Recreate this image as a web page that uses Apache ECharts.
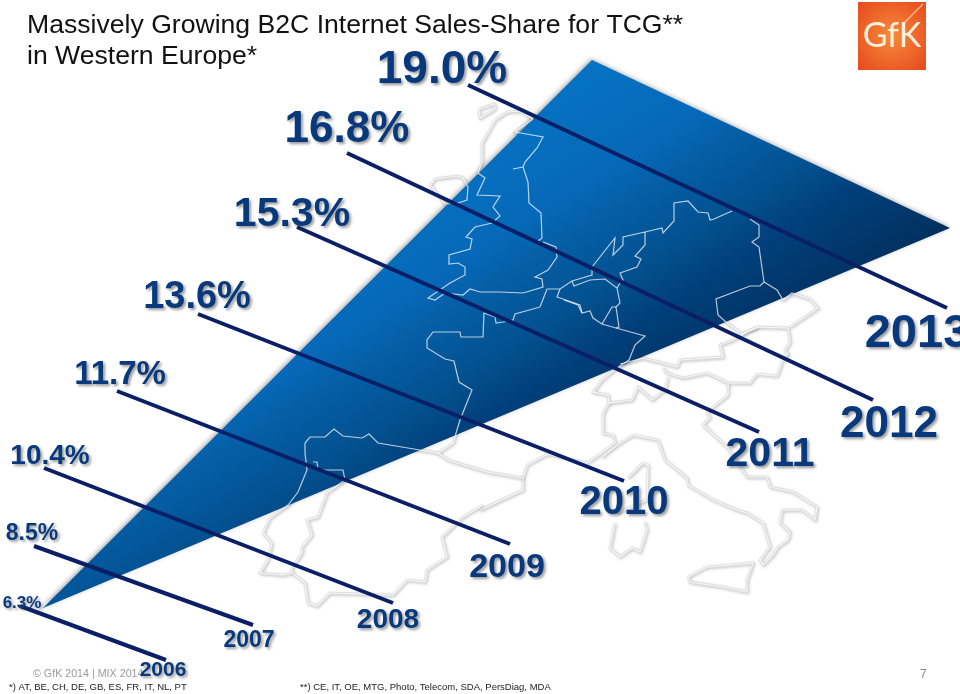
<!DOCTYPE html>
<html>
<head>
<meta charset="utf-8">
<style>html,body{margin:0;padding:0;background:#fff}#c{width:960px;height:694px}</style>
<script src="https://cdn.jsdelivr.net/npm/echarts@6/dist/echarts.min.js"></script>
</head>
<body>
<div id="c"></div>
<script>
// ---- chart values ----
const years = ['2006','2007','2008','2009','2010','2011','2012','2013'];
const shares = [6.3, 8.5, 10.4, 11.7, 13.6, 15.3, 16.8, 19.0];

// ---- placement (slide units on the hidden axes) ----
const shareAnchors = [[22,602],[32,532],[50,454],[120,373],[197,295],[292,212],[347,127],[442,67]];
const yearAnchors  = [[163,669],[249,639],[388,618],[507,565],[624,500],[770,452],[889,422],[917,331]];
const leaderStarts = [[20,606],[34,546],[44,468],[117,391],[198,314],[297,227],[347,153],[468,85]];
const leaderEnds   = [[166,660],[253,625],[393,603],[510,544],[624,481],[759,432],[873,400],[947,308]];
const shareFontSizes = [17,23,28,33,38,41,44,46];
const yearFontSizes  = [21,23,28,34,40,41,44,47];
const wedge = [[43,608],[592,60],[950,228]];

// ---- background map outlines ----
const mapOutlines = [
  [[479,109],[494,104],[495,109],[480,118],[479,109]],
  [[533,119],[515,132],[543,137],[537,148],[525,162],[523,167],[513,169]],
  [[523,167],[528,182],[529,203],[541,213],[542,238],[538,241]],
  [[543,242],[556,247],[557,257],[548,270],[535,277],[542,279],[543,287],[523,293],[500,292],[480,292],[470,289],[463,295],[445,293],[435,300],[428,298],[450,283],[465,275],[465,267],[458,263],[449,264],[449,255],[470,249],[472,239],[466,237],[475,227],[492,223],[500,216],[493,207],[500,196],[477,195],[485,178],[478,173],[482,162],[482,143],[488,133],[495,120],[507,112],[520,111],[533,119]],
  [[430,185],[435,179],[457,176],[463,178],[468,187],[467,200],[458,203],[445,204],[432,187],[430,185]],
  [[592,267],[615,238],[613,255],[623,245],[623,237],[645,232],[662,228],[663,233],[674,221],[674,203],[688,201],[698,212],[708,213],[710,220],[714,219],[732,211]],
  [[645,232],[645,245],[635,256],[641,259],[637,267],[620,273],[623,280],[620,283],[617,288]],
  [[592,267],[592,275],[572,281],[560,289],[547,289],[540,307]],
  [[572,281],[574,286],[590,280],[605,279],[617,288],[620,303],[616,307],[619,327],[616,328]],
  [[602,324],[612,307],[616,307]],
  [[560,289],[557,297],[580,305],[582,313],[590,311],[593,318],[602,324],[616,328],[645,336],[635,345],[629,360],[617,368],[602,380],[593,392],[608,395],[609,403],[603,413],[603,433],[613,435],[615,443],[603,452],[587,463],[548,454],[527,465],[523,478],[523,490],[480,510]],
  [[750,219],[759,225],[759,237],[752,242],[759,247],[764,282],[760,286],[750,286],[716,299],[718,315],[727,323],[742,334],[758,327],[788,328],[790,343],[785,350],[788,355]],
  [[764,282],[777,290],[783,300],[792,293],[810,299],[818,308],[790,327]],
  [[758,327],[750,330],[733,340],[720,345],[723,357],[680,360],[677,367],[663,363],[643,358],[620,364]],
  [[663,368],[667,373],[683,378],[707,373],[728,383],[750,383],[757,374],[777,376],[782,362],[788,353]],
  [[668,377],[665,390],[652,400],[638,387],[632,400],[609,403]],
  [[602,457],[617,445],[633,435],[658,440],[665,460],[687,478],[688,485],[713,500],[737,510],[747,513],[763,523],[770,547],[760,560],[763,565],[773,555],[778,547],[788,540],[790,532],[780,523],[782,510],[802,510],[815,520],[817,507],[793,492],[770,487],[767,477],[747,477],[727,447],[703,425],[710,417],[707,412],[728,395],[728,383]],
  [[688,577],[707,567],[753,563],[747,580],[747,592],[723,587],[690,582],[688,577]],
  [[628,478],[643,463],[648,465],[647,500],[617,513]],
  [[615,523],[610,548],[620,557],[632,548],[640,552],[647,530],[645,522]],
  [[305,453],[305,443],[310,437],[325,437],[334,429],[343,436],[362,438],[369,434],[378,443],[420,450],[438,453],[453,443],[460,420],[472,390],[459,382],[454,361],[445,359],[427,348],[427,340],[433,332],[460,332],[461,337],[483,337],[484,313],[495,317],[496,323],[503,322],[513,320],[515,314],[540,307]],
  [[305,453],[307,470],[298,492],[288,505],[270,518],[263,533],[272,543],[268,560],[260,573],[283,575],[292,573],[305,583],[308,603],[317,606],[330,593],[393,595],[407,580],[425,582],[427,570],[447,557],[442,537],[463,517],[483,505]],
  [[313,462],[317,462],[318,470],[343,470],[345,480],[327,493],[318,517],[307,520],[312,535],[302,547],[302,553],[292,568],[292,573]],
  [[438,453],[448,460],[487,472],[523,478]],
  [[564,300],[578,305],[582,313]]
];

const NAVY = '#08397c', LINE = '#0a1f66';
const FONT = '"Liberation Sans", Arial, sans-serif';

const leaderData = years.map((y,i)=>[leaderStarts[i],leaderEnds[i]]);

function polyItem(points, style){
  return (params, api) => ({
    type:'polyline',
    shape:{points:points(params).map(p=>api.coord(p))},
    style
  });
}

const labelBase = {
  show:true, position:'inside', color:NAVY, fontWeight:'bold', fontFamily:FONT, opacity:1,
  textShadowColor:'rgba(50,50,50,.5)', textShadowBlur:3, textShadowOffsetX:2, textShadowOffsetY:2
};

const option = {
  animation:false,
  backgroundColor:'#fff',
  grid:{left:0,right:0,top:0,bottom:0},
  xAxis:{type:'value',min:0,max:960,show:false},
  yAxis:{type:'value',min:0,max:694,inverse:true,show:false},
  title:[
    {text:'Massively Growing B2C Internet Sales-Share for TCG**\nin Western Europe*',left:27,top:10,padding:0,
      textStyle:{fontFamily:FONT,fontSize:26.6,fontWeight:'normal',color:'#111',lineHeight:31}},
    {text:'© GfK 2014 | MIX 2014',left:33,top:669,padding:0,textStyle:{fontFamily:FONT,fontSize:10.7,fontWeight:'normal',color:'#9a9a9a'}},
    {text:'*) AT, BE, CH, DE, GB, ES, FR, IT, NL, PT',left:9,top:682,padding:0,textStyle:{fontFamily:FONT,fontSize:9.5,fontWeight:'normal',color:'#222'}},
    {text:'**) CE, IT, OE, MTG, Photo, Telecom, SDA, PersDiag, MDA',left:300,top:682,padding:0,textStyle:{fontFamily:FONT,fontSize:9.5,fontWeight:'normal',color:'#222'}},
    {text:'7',left:920,top:669,padding:0,textStyle:{fontFamily:FONT,fontSize:12,fontWeight:'normal',color:'#8a8a8a'}}
  ],
  graphic:[
    {type:'rect',z:5,shape:{x:858,y:2,width:68,height:68},
      style:{fill:new echarts.graphic.RadialGradient(0.5,0.5,0.65,[{offset:0,color:'#f68a3c'},{offset:1,color:'#e84e1e'}])}},
    {type:'line',z:6,shape:{x1:923,y1:4,x2:903,y2:24},style:{stroke:'rgba(255,225,180,.7)',lineWidth:1.5}},
    {type:'text',z:6,x:892,y:36,style:{text:'GfK',align:'center',verticalAlign:'middle',fill:'#fdf1dc',
      font:'400 34px Lato, "Open Sans", sans-serif'}}
  ],
  series:[
    { // shadowed map outlines, under the wedge
      type:'custom',coordinateSystem:'cartesian2d',silent:true,z:1,clip:false,
      data:mapOutlines.map((o,i)=>[i]),
      encode:{x:[],y:[]},
      renderItem:polyItem(p=>mapOutlines[p.dataIndex],{fill:null,stroke:'#dcdcdc',lineWidth:2.5,shadowBlur:3,shadowColor:'rgba(0,0,0,.25)',shadowOffsetX:1,shadowOffsetY:1})
    },
    { // sales-share wedge
      type:'custom',coordinateSystem:'cartesian2d',silent:true,z:2,clip:false,
      data:[[0]],
      encode:{x:[],y:[]},
      renderItem:(p,api)=>({
        type:'polygon',
        shape:{points:wedge.map(q=>api.coord(q))},
        style:{
          fill:new echarts.graphic.LinearGradient(300,242,476,524,[
            {offset:0,color:'#0573c2'},{offset:0.31,color:'#0668b8'},{offset:0.4,color:'#0560a8'},
            {offset:0.61,color:'#03508f'},{offset:0.75,color:'#013f7a'},{offset:1,color:'#02305f'}],true),
          shadowBlur:5,shadowColor:'rgba(0,0,0,.35)',shadowOffsetX:-1,shadowOffsetY:-1
        }
      })
    },
    { // thin light outlines above the wedge
      type:'custom',coordinateSystem:'cartesian2d',silent:true,z:3,clip:false,
      data:mapOutlines.map((o,i)=>[i]),
      encode:{x:[],y:[]},
      renderItem:polyItem(p=>mapOutlines[p.dataIndex],{fill:null,stroke:'rgba(255,255,255,.72)',lineWidth:1.2})
    },
    ...years.map((y,i)=>({
      type:'line',name:y,z:4,silent:true,showSymbol:false,symbol:'none',clip:false,
      data:leaderData[i],
      lineStyle:{color:LINE,width:4,cap:'butt'}
    })),
    {
      type:'scatter',name:'share',z:7,silent:true,symbolSize:0,clip:false,itemStyle:{opacity:1},
      data:shares.map((s,i)=>({value:[shareAnchors[i][0],shareAnchors[i][1],s],
        label:{...labelBase,fontSize:shareFontSizes[i],offset:[0,shareFontSizes[i]*0.07],formatter:s.toFixed(1)+'%'}}))
    },
    {
      type:'scatter',name:'year',z:7,silent:true,symbolSize:0,clip:false,itemStyle:{opacity:1},
      data:years.map((y,i)=>({value:[yearAnchors[i][0],yearAnchors[i][1],+y],
        label:{...labelBase,fontSize:yearFontSizes[i],offset:[0,yearFontSizes[i]*0.07],formatter:y}}))
    }
  ]
};
echarts.init(document.getElementById('c'),null,{renderer:'canvas'}).setOption(option);
</script>
</body>
</html>
